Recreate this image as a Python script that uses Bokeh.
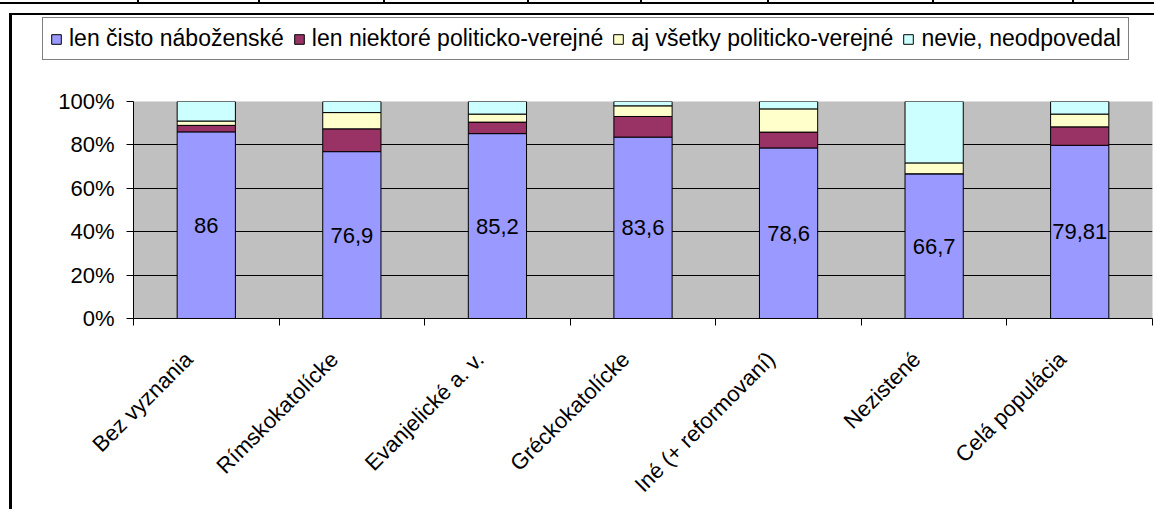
import math
from bokeh.plotting import figure
from bokeh.models import (FixedTicker, Legend, LegendItem,
                          ColumnDataSource, PrintfTickFormatter)
from bokeh.core.properties import value
from bokeh.embed import file_html
from bokeh.resources import INLINE

categories = ["Bez vyznania", "Rímskokatolícke", "Evanjelické a. v.",
              "Gréckokatolícke", "Iné (+ reformovaní)", "Nezistené",
              "Celá populácia"]
cisto = [86, 76.9, 85.2, 83.6, 78.6, 66.7, 79.81]
niektore = [3.0, 10.5, 5.3, 9.5, 7.3, 0.0, 8.5]
vsetky = [2.0, 7.5, 3.7, 4.9, 10.7, 5.0, 5.9]
nevie = [9.0, 5.1, 5.8, 2.0, 3.4, 28.3, 5.79]
series_names = ["len čisto náboženské", "len niektoré politicko-verejné",
                "aj všetky politicko-verejné", "nevie, neodpovedal"]
colors = ["#9999FF", "#993366", "#FFFFCC", "#CCFFFF"]
y_ticks = [0, 20, 40, 60, 80, 100]

FONT = "Liberation Sans"
W = 1154
TOP_H = 80
MAIN_H = 509 - TOP_H

# ---------------------------------------------------------------- legend strip
table_cols = [137, 258, 383, 527, 640, 767, 932, 1072]
top_bg = [
    "linear-gradient(#000,#000) 9px 13px / 3px calc(100% - 13px) no-repeat",
    "linear-gradient(#000,#000) 9px 13px / calc(100% - 9px) 2px no-repeat",
    "linear-gradient(#000,#000) 0px 2px / 100% 2px no-repeat",
] + [f"linear-gradient(#000,#000) {c}px 0px / 2px 4px no-repeat" for c in table_cols]

top = figure(width=W, height=TOP_H, output_backend="svg", toolbar_location=None,
             x_range=(0, 1), y_range=(0, 1), min_border=0)
top.styles = {"background": ", ".join(top_bg) + ", #ffffff"}
top.border_fill_color = None
top.background_fill_color = None
top.outline_line_color = None
top.axis.visible = False
top.grid.visible = False

# off-range swatch renderers, only used for the legend glyphs
legend_renderers = [top.vbar(x=[-10], top=[0], width=0.4, fill_color=c,
                             line_color="black", line_width=1) for c in colors]
legend = Legend(items=[LegendItem(label=n, renderers=[r])
                       for n, r in zip(series_names, legend_renderers)],
                orientation="horizontal", location=(42, TOP_H - 60))
legend.label_text_font = FONT
legend.label_text_font_size = "23px"
legend.label_text_color = "black"
legend.border_line_color = "black"
legend.border_line_width = 1
legend.background_fill_color = "white"
legend.background_fill_alpha = 1
legend.glyph_width = 12
legend.glyph_height = 12
legend.label_standoff = 7
legend.spacing = 9
legend.padding = 7
legend.margin = 0
legend.label_height = 25
top.add_layout(legend, "center")

# ---------------------------------------------------------------- main chart
xs = [i + 0.5 for i in range(len(categories))]
label_ticks = [round(x - 0.12, 3) for x in xs]
src = ColumnDataSource(dict(x=xs, cisto=cisto, niektore=niektore,
                            vsetky=vsetky, nevie=nevie))

p = figure(width=W, height=MAIN_H, output_backend="svg", toolbar_location=None,
           x_range=(0, len(categories)), y_range=(0, 100),
           min_border_left=133, min_border_right=2, min_border_top=21,
           min_border_bottom=MAIN_H - 21 - 217)
p.styles = {"background": "linear-gradient(#000,#000) 9px 0px / 3px 100% no-repeat, #ffffff"}
p.border_fill_color = None
p.background_fill_color = "#C0C0C0"
p.outline_line_color = None

p.vbar_stack(["cisto", "niektore", "vsetky", "nevie"], x="x",
             width=0.4, color=colors, line_color="black",
             line_width=1, source=src)

labels = [f"{v:g}".replace(".", ",") for v in cisto]
p.text(x=xs, y=[v / 2 for v in cisto], text=labels, text_align="center",
       text_baseline="middle", text_font=value(FONT), text_font_size="22px",
       text_color="black")

p.xaxis.ticker = FixedTicker(ticks=label_ticks,
                             minor_ticks=list(range(len(categories) + 1)))
p.xaxis.major_label_overrides = {t: c for t, c in zip(label_ticks, categories)}
p.xaxis.major_tick_in = 0
p.xaxis.major_tick_out = 0
p.xaxis.minor_tick_in = 0
p.xaxis.minor_tick_out = 7
p.xaxis.minor_tick_line_color = "black"
p.xaxis.major_label_orientation = math.pi / 4
p.xaxis.major_label_standoff = 30

p.yaxis.ticker = FixedTicker(ticks=y_ticks, minor_ticks=[])
p.yaxis.formatter = PrintfTickFormatter(format="%d%%")
p.yaxis.major_tick_in = 0
p.yaxis.major_tick_out = 7
p.yaxis.major_label_standoff = 12

for ax in (p.xaxis[0], p.yaxis[0]):
    ax.axis_line_color = "black"
    ax.major_tick_line_color = "black"
    ax.major_label_text_font = FONT
    ax.major_label_text_font_size = "22px"
    ax.major_label_text_color = "black"

p.xgrid.grid_line_color = None
p.ygrid.ticker = FixedTicker(ticks=y_ticks)
p.ygrid.grid_line_color = "black"
p.ygrid.grid_line_alpha = 1

# two independent roots stacked on the page (no frame alignment between them)
open("out.html", "w").write(file_html([top, p], INLINE))
